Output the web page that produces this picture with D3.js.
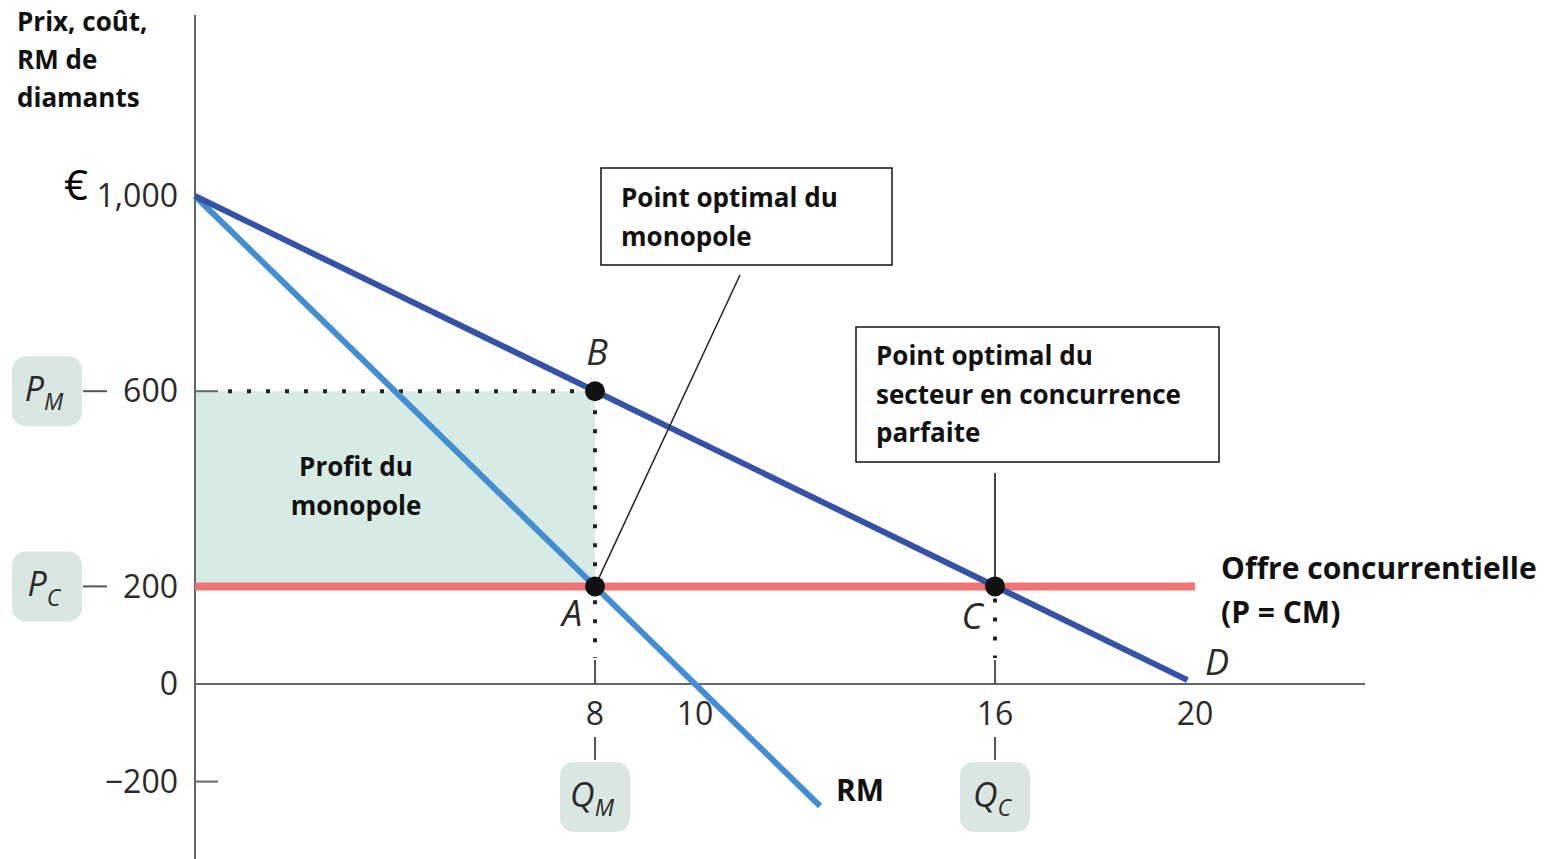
<!DOCTYPE html>
<html>
<head>
<meta charset="utf-8">
<script src="https://cdn.jsdelivr.net/npm/d3@7"></script>
<style>
  body { margin: 0; background: #fff; }
  svg { display: block; }
  .bold { font-family: "Open Sans", sans-serif; font-weight: 700; fill: #111; }
  .num { font-family: "Open Sans", sans-serif; fill: #2a2a2a; }
  .ital { font-family: "Open Sans", sans-serif; font-style: italic; fill: #2a2a2a; }
</style>
</head>
<body>
<div id="chart"></div>
<script>
// data
var demand = [[0, 1000], [19.85, 8]];
var recette = [[0, 1000], [12.5, -250]];
var offre = [[0, 200], [20, 200]];
var profit = { q0: 0, q1: 8, p0: 200, p1: 600 };
var points = [
    { name: "B", q: 8, p: 600 },
    { name: "A", q: 8, p: 200 },
    { name: "C", q: 16, p: 200 }
];
var xTicks = [8, 10, 16, 20];
var yTicks = [1000, 600, 200, 0, -200];
var yTickLabels = ["1,000", "600", "200", "0", "\u2212200"];

var W = 1552, H = 859;
var svg = d3.select("#chart").append("svg").attr("width", W).attr("height", H);

var x = d3.scaleLinear().domain([0, 20]).range([195, 1195]);
var y = d3.scaleLinear().domain([0, 1000]).range([684, 196]);
var line = d3.line().x(function (d) { return x(d[0]); }).y(function (d) { return y(d[1]); });

// profit area
svg.append("rect")
    .attr("x", x(profit.q0)).attr("y", y(profit.p1))
    .attr("width", x(profit.q1) - x(profit.q0))
    .attr("height", y(profit.p0) - y(profit.p1))
    .attr("fill", "#d7ebe4");

// axes
svg.append("line").attr("x1", x(0)).attr("x2", x(0)).attr("y1", 15).attr("y2", H)
    .attr("stroke", "#666").attr("stroke-width", 2);
svg.append("line").attr("x1", x(0)).attr("x2", 1365).attr("y1", y(0)).attr("y2", y(0))
    .attr("stroke", "#666").attr("stroke-width", 2);

// y ticks
var yl = svg.append("g");
yTicks.forEach(function (v, i) {
    var ty = y(v);
    yl.append("text").attr("class", "num")
        .attr("x", 178).attr("y", ty).attr("dy", "0.35em")
        .attr("text-anchor", "end").attr("font-size", 32).text(yTickLabels[i]);
    if (v === -200 || v === 600) {
        yl.append("line").attr("x1", x(0)).attr("x2", 218).attr("y1", ty).attr("y2", ty)
            .attr("stroke", "#666").attr("stroke-width", 2);
    }
    if (v === 600 || v === 200) {
        yl.append("line").attr("x1", 83).attr("x2", 107).attr("y1", ty).attr("y2", ty)
            .attr("stroke", "#555").attr("stroke-width", 2);
    }
});
svg.append("text").attr("x", 64).attr("y", 200).attr("font-family", "Open Sans, sans-serif")
    .attr("font-size", 42).attr("fill", "#000").text("\u20ac");

// x tick labels
xTicks.forEach(function (v) {
    svg.append("text").attr("class", "num").attr("x", x(v)).attr("y", 714).attr("dy", "0.35em")
        .attr("text-anchor", "middle").attr("font-size", 32).text(v);
});

// badges
function badge(cx, cy, main, sub) {
    svg.append("rect").attr("x", cx - 35).attr("y", cy - 35).attr("width", 70).attr("height", 70)
        .attr("rx", 14).attr("fill", "#d9e6e2");
    var t = svg.append("text").attr("class", "ital").attr("x", cx - 3).attr("y", cy - 2)
        .attr("dy", "0.35em").attr("text-anchor", "middle").attr("font-size", 34);
    t.append("tspan").text(main);
    t.append("tspan").attr("font-size", 23).attr("dy", "0.4em").text(sub);
}
badge(47, y(600), "P", "M");
badge(47, y(200), "P", "C");
badge(x(8), 797, "Q", "M");
badge(x(16), 797, "Q", "C");
[8, 16].forEach(function (v) {
    svg.append("line").attr("x1", x(v)).attr("x2", x(v)).attr("y1", 737).attr("y2", 760)
        .attr("stroke", "#555").attr("stroke-width", 2);
    svg.append("line").attr("x1", x(v)).attr("x2", x(v)).attr("y1", 660).attr("y2", y(0))
        .attr("stroke", "#555").attr("stroke-width", 2);
});

// dotted guides
var dots = { stroke: "#222", "stroke-width": 4, "stroke-dasharray": "4 15", "stroke-linecap": "butt" };
function dotted(x1, y1, x2, y2) {
    var l = svg.append("line").attr("x1", x1).attr("y1", y1).attr("x2", x2).attr("y2", y2);
    Object.keys(dots).forEach(function (k) { l.attr(k, dots[k]); });
}
dotted(x(0) + 33, y(600), x(8), y(600));
dotted(x(8), y(600), x(8), 658);
dotted(x(16), y(200) + 12, x(16), 658);

// curves
svg.append("path").datum(offre).attr("d", line).attr("fill", "none")
    .attr("stroke", "#f07272").attr("stroke-width", 8);
svg.append("path").datum(recette).attr("d", line).attr("fill", "none")
    .attr("stroke", "#418fd0").attr("stroke-width", 6);
svg.append("path").datum(demand).attr("d", line).attr("fill", "none")
    .attr("stroke", "#3553a6").attr("stroke-width", 6);

// pointer lines
svg.append("line").attr("x1", 740).attr("y1", 275).attr("x2", x(8)).attr("y2", y(200))
    .attr("stroke", "#222").attr("stroke-width", 1.5);
svg.append("line").attr("x1", x(16)).attr("y1", 473).attr("x2", x(16)).attr("y2", y(200))
    .attr("stroke", "#444").attr("stroke-width", 2);

// points
svg.selectAll("circle.pt").data(points).enter().append("circle")
    .attr("cx", function (d) { return x(d.q); })
    .attr("cy", function (d) { return y(d.p); })
    .attr("r", 10).attr("fill", "#111");

var letterPos = { B: [597, 352], A: [572, 613], C: [972, 616] };
points.forEach(function (d) {
    svg.append("text").attr("class", "ital").attr("x", letterPos[d.name][0]).attr("y", letterPos[d.name][1])
        .attr("dy", "0.35em").attr("text-anchor", "middle").attr("font-size", 36).text(d.name);
});
svg.append("text").attr("class", "ital").attr("x", 1217).attr("y", 662).attr("dy", "0.35em")
    .attr("text-anchor", "middle").attr("font-size", 36).text("D");

// boxes
function box(x0, y0, w, h, lines, ly, lh) {
    svg.append("rect").attr("x", x0).attr("y", y0).attr("width", w).attr("height", h)
        .attr("fill", "#fff").attr("stroke", "#111").attr("stroke-width", 1.5);
    lines.forEach(function (s, i) {
        svg.append("text").attr("class", "bold").attr("x", x0 + 20).attr("y", ly + i * lh)
            .attr("dy", "0.35em").attr("font-size", 26).text(s);
    });
}
box(601, 168, 291, 97, ["Point optimal du", "monopole"], 198, 39);
box(856, 327, 363, 135, ["Point optimal du", "secteur en concurrence", "parfaite"], 356, 38.5);

// other labels
function label(s, lx, ly, size, anchor) {
    svg.append("text").attr("class", "bold").attr("x", lx).attr("y", ly).attr("dy", "0.35em")
        .attr("font-size", size).attr("text-anchor", anchor || "start").text(s);
}
label("Prix, co\u00fbt,", 17, 22, 26);
label("RM de", 17, 60, 26);
label("diamants", 17, 98, 26);
label("Profit du", 356, 467, 26, "middle");
label("monopole", 356, 506, 26, "middle");
label("RM", 836, 790, 30);
label("Offre concurrentielle", 1221, 568, 30);
label("(P = CM)", 1221, 612, 30);
</script>
</body>
</html>
